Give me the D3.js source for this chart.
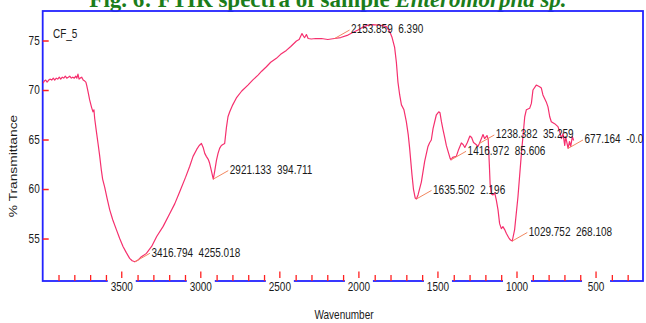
<!DOCTYPE html>
<html>
<head>
<meta charset="utf-8">
<script src="https://cdnjs.cloudflare.com/ajax/libs/d3/7.8.5/d3.min.js"></script>
<style>
  body { margin: 0; background: #fff; }
  svg { display: block; }
  text { font-family: "Liberation Sans", Arial, sans-serif; fill: #1a1a1a; }
</style>
</head>
<body>
<svg id="chart" width="646" height="323"></svg>
<script>
// spectrum (cm-1, %T)
var wavenumber = [3998, 3990, 3981, 3972, 3962, 3952, 3943, 3933, 3924, 3914, 3905, 3895, 3886, 3876, 3867, 3857,
  3848, 3838, 3829, 3819, 3810, 3800, 3791, 3784, 3777, 3770, 3763, 3753, 3744, 3734, 3727, 3722, 3713, 3703,
  3695, 3690, 3682, 3676, 3671, 3662, 3650, 3640, 3629, 3621, 3608, 3592, 3576, 3557, 3534, 3513, 3492, 3472,
  3450, 3434, 3417, 3399, 3380, 3344, 3311, 3279, 3239, 3197, 3165, 3134, 3096, 3070, 3049, 3026, 3010, 2996,
  2985, 2975, 2965, 2953, 2944, 2934, 2921, 2912, 2901, 2891, 2881, 2870, 2860, 2849, 2838, 2828, 2817, 2798,
  2775, 2741, 2702, 2672, 2638, 2615, 2585, 2558, 2522, 2495, 2459, 2431, 2395, 2378, 2360, 2349, 2343, 2332,
  2321, 2301, 2273, 2237, 2197, 2154, 2115, 2069, 2039, 2006, 1976, 1943, 1913, 1879, 1850, 1826, 1805, 1790,
  1774, 1763, 1753, 1742, 1731, 1715, 1700, 1688, 1679, 1664, 1655, 1644, 1636, 1626, 1605, 1584, 1563, 1552,
  1542, 1531, 1510, 1495, 1487, 1478, 1468, 1457, 1447, 1436, 1423, 1417, 1407, 1384, 1369, 1352, 1341, 1330,
  1314, 1298, 1287, 1275, 1259, 1247, 1238, 1225, 1215, 1205, 1190, 1182, 1175, 1170, 1162, 1152, 1141, 1131,
  1120, 1110, 1099, 1089, 1078, 1067, 1053, 1041, 1030, 1015, 994, 972, 951, 941, 920, 909, 899, 878, 857, 846,
  836, 815, 804, 793, 783, 762, 741, 730, 719, 709, 698, 692, 677, 668, 660, 650, 642];
var transmittance = [70.7, 70.9, 71.0, 70.8, 71.0, 71.1, 71.0, 71.2, 71.0, 71.2, 71.1, 71.3, 71.1, 71.3, 71.2, 71.4,
  71.2, 71.3, 71.4, 71.2, 71.3, 71.2, 71.4, 71.2, 71.6, 71.1, 71.2, 71.3, 71.0, 70.9, 70.8, 70.5, 69.8, 69.0,
  68.5, 68.2, 67.8, 68.0, 67.1, 66.0, 64.6, 63.4, 61.9, 61.0, 60.2, 59.0, 57.9, 56.9, 55.9, 55.0, 54.2, 53.6,
  53.0, 52.75, 52.65, 52.8, 53.1, 53.5, 54.2, 55.2, 56.2, 57.5, 58.5, 59.7, 61.2, 62.3, 63.3, 64.0, 64.4, 64.6,
  64.2, 63.6, 63.3, 63.0, 62.6, 61.9, 61.0, 61.8, 62.9, 63.6, 64.1, 64.4, 64.5, 64.6, 66.2, 67.3, 67.8, 68.5,
  69.2, 69.9, 70.5, 71.0, 71.5, 71.9, 72.35, 72.8, 73.2, 73.6, 74.0, 74.4, 74.95, 75.1, 75.7, 75.4, 75.3, 75.6,
  75.2, 75.15, 75.2, 75.2, 75.1, 75.2, 75.3, 75.55, 75.8, 76.06, 76.35, 76.55, 76.6, 76.55, 76.5, 76.4, 75.9, 75.3,
  74.3, 72.8, 70.8, 69.5, 68.5, 68.0, 66.8, 65.5, 64.1, 61.4, 60.0, 59.1, 59.0, 59.4, 60.7, 62.8, 64.3, 64.7,
  64.95, 66.1, 67.5, 67.8, 67.7, 66.8, 66.0, 65.2, 64.4, 63.8, 63.1, 62.95, 63.2, 63.3, 64.0, 64.65, 64.5, 64.2,
  64.7, 65.35, 65.2, 64.7, 64.5, 64.3, 64.6, 65.1, 65.5, 65.1, 65.4, 65.0, 62.5, 60.5, 59.5, 59.4, 59.6, 58.9,
  57.9, 56.5, 56.0, 56.2, 55.9, 55.5, 55.1, 54.85, 54.75, 55.9, 59.2, 63.6, 67.3, 68.0, 68.15, 68.65, 70.0, 70.5, 70.33, 70.2,
  69.5, 68.8, 68.3, 67.3, 66.8, 66.6, 66.3, 65.8, 65.1, 65.6, 64.4, 65.3, 64.1, 64.8, 64.3, 65.3, 64.9];

// labelled peaks
var peakWavenumber = [3416.794, 2921.133, 2153.859, 1635.502, 1416.972, 1238.382, 1029.752, 677.164];
var peakTransmittance = [52.65, 61.0, 75.2, 59.0, 62.95, 64.6, 54.75, 64.1];
var peakValue = [4255.018, 394.711, 6.390, 2.196, 85.606, 35.259, 268.108, -0.004];

var yTicks = [55, 60, 65, 70, 75];
var xMajorTicks = [3500, 3000, 2500, 2000, 1500, 1000, 500];
var xMinorTicks = [3900, 3800, 3700, 3600, 3400, 3300, 3200, 3100, 2900, 2800, 2700, 2600, 2400, 2300, 2200, 2100,
  1900, 1800, 1700, 1600, 1400, 1300, 1200, 1100, 900, 800, 700, 600, 400, 300];

var svg = d3.select('#chart');
var plotLeft = 42.7, plotRight = 643, plotTop = 11, plotBottom = 281;
var stretch = 'scale(1,1.2)';

var x = d3.scaleLinear().domain([4000, 203]).range([plotLeft, plotRight]);
var y = d3.scaleLinear().domain([50.71, 77.98]).range([plotBottom, plotTop]);

// title, cut off by the top of the picture
var title = svg.append('text')
  .attr('x', 328).attr('y', 7)
  .attr('text-anchor', 'middle')
  .style('font-family', '"Liberation Serif", "Times New Roman", serif')
  .style('font-weight', 'bold')
  .style('font-size', '23px')
  .style('fill', '#1b7d1b')
  .text('Fig. 6: FTIR spectra of sample ');
title.append('tspan').style('font-style', 'italic').text('Enteromorpha sp.');

svg.append('defs').append('clipPath').attr('id', 'plot-clip')
  .append('rect')
  .attr('x', plotLeft).attr('y', plotTop)
  .attr('width', plotRight - plotLeft).attr('height', plotBottom - plotTop);

// frame
svg.append('rect')
  .attr('x', plotLeft).attr('y', plotTop)
  .attr('width', plotRight - plotLeft).attr('height', plotBottom - plotTop)
  .attr('fill', 'none')
  .attr('stroke', '#2323ff')
  .attr('stroke-width', 1.8);

// y axis
var yAxis = svg.append('g')
  .attr('transform', 'translate(' + plotLeft + ',0)')
  .call(d3.axisLeft(y).tickValues(yTicks).tickSize(-6).tickPadding(3));
yAxis.select('.domain').remove();
yAxis.selectAll('line').attr('stroke', '#ff2020').attr('stroke-width', 1.5);
yAxis.selectAll('text')
  .style('font-size', '10px')
  .attr('transform', stretch);

// x axis minor ticks
var xAxis = svg.append('g')
  .attr('transform', 'translate(0,' + plotBottom + ')')
  .call(d3.axisBottom(x).tickValues(xMinorTicks).tickSize(-6).tickFormat(''));
xAxis.select('.domain').remove();
xAxis.selectAll('line').attr('stroke', '#ff2020').attr('stroke-width', 1.3);

// x axis major ticks: label knocks out the axis line, tick floats above
var major = svg.append('g').selectAll('g')
  .data(xMajorTicks)
  .enter().append('g')
  .attr('transform', function(d) { return 'translate(' + x(d) + ',' + plotBottom + ')'; });
major.append('rect')
  .attr('x', -14).attr('y', -2)
  .attr('width', 28).attr('height', 4)
  .attr('fill', '#fff');
major.append('line')
  .attr('y1', -9.5).attr('y2', -3)
  .attr('stroke', '#ff2020').attr('stroke-width', 1.3);
major.append('text')
  .attr('transform', 'translate(0,10) ' + stretch)
  .attr('text-anchor', 'middle')
  .style('font-size', '10px')
  .text(function(d) { return d; });

// axis titles
svg.append('text')
  .attr('transform', 'translate(344,319) ' + stretch)
  .attr('text-anchor', 'middle')
  .style('font-size', '10px')
  .text('Wavenumber');
svg.append('text')
  .attr('transform', 'translate(17,166) rotate(-90) scale(1.25,1)')
  .attr('text-anchor', 'middle')
  .style('font-size', '11px')
  .text('% Transmittance');

svg.append('text')
  .attr('transform', 'translate(53,38) ' + stretch)
  .style('font-size', '10px')
  .text('CF_5');

// spectrum
var plot = svg.append('g').attr('clip-path', 'url(#plot-clip)');

var line = d3.line()
  .x(function(d, i) { return x(wavenumber[i]); })
  .y(function(d, i) { return y(transmittance[i]); });

plot.append('path')
  .datum(wavenumber)
  .attr('d', line)
  .attr('fill', 'none')
  .attr('stroke', '#f5306e')
  .attr('stroke-width', 1.2)
  .attr('stroke-linejoin', 'round');

// peak labels
var peaks = plot.selectAll('.peak')
  .data(peakWavenumber)
  .enter().append('g')
  .attr('class', 'peak')
  .attr('transform', function(d, i) { return 'translate(' + x(d) + ',' + y(peakTransmittance[i]) + ')'; });

peaks.append('line')
  .attr('x1', 0).attr('y1', 0)
  .attr('x2', 15).attr('y2', -8.5)
  .attr('stroke', '#f2875f')
  .attr('stroke-width', 1);

peaks.append('text')
  .attr('transform', 'translate(16.5,-9.5) ' + stretch)
  .attr('dy', '0.35em')
  .style('font-size', '10px')
  .style('white-space', 'pre')
  .text(function(d, i) { return d.toFixed(3) + '  ' + peakValue[i].toFixed(3); });
</script>
</body>
</html>
